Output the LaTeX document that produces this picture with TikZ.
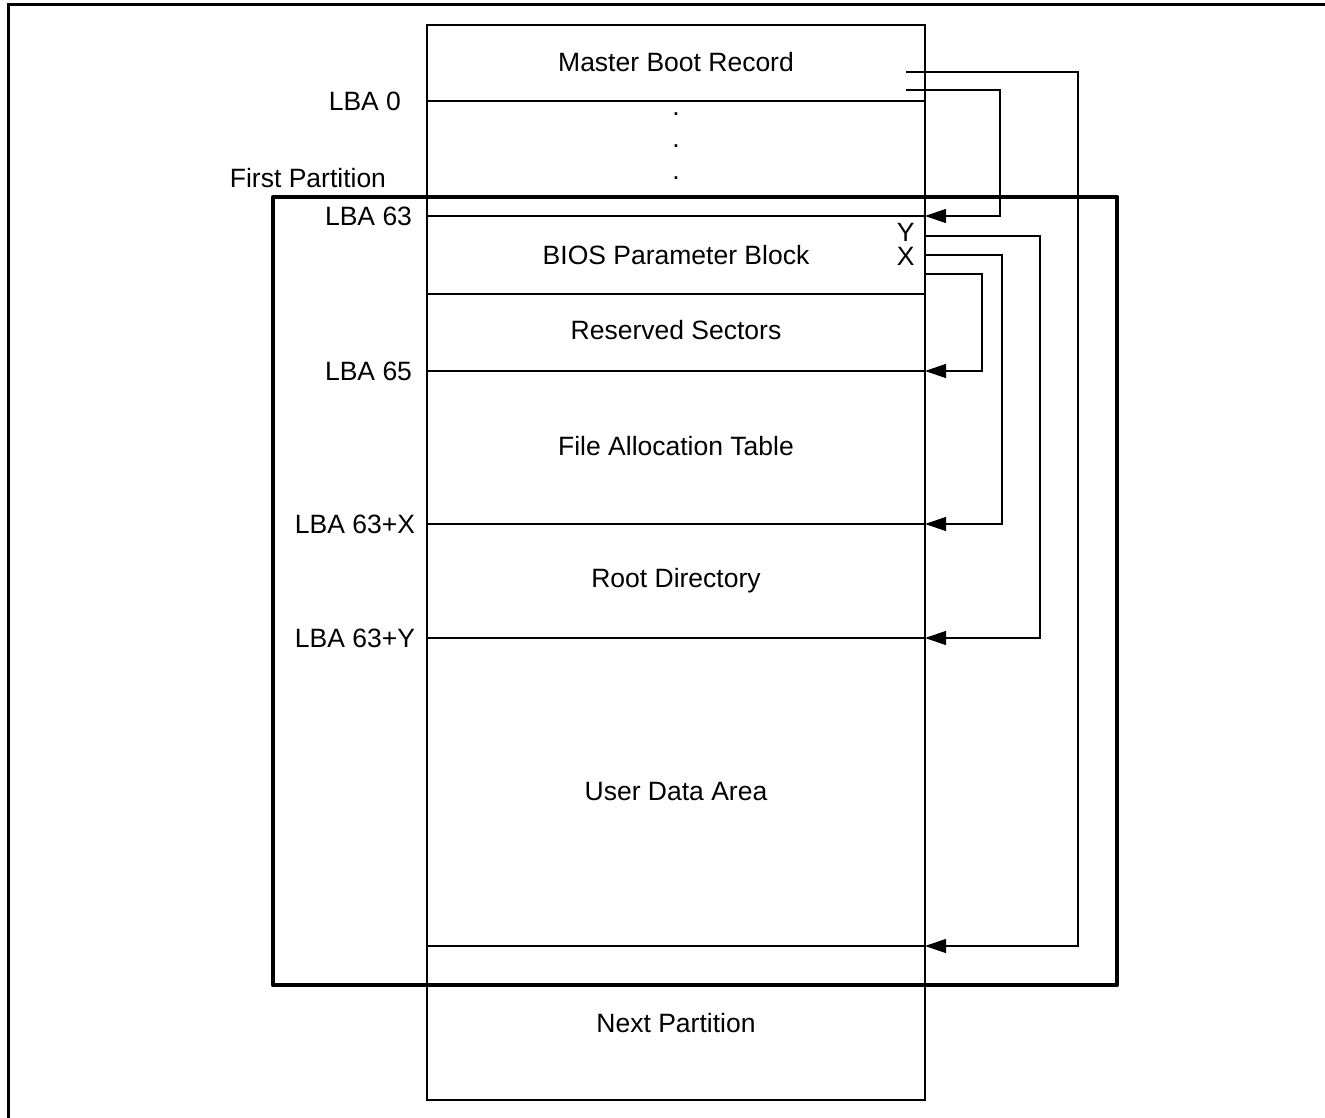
\documentclass[tikz,border=0pt]{standalone}
\usepackage{fontspec}
\setmainfont{Liberation Sans}
\usetikzlibrary{arrows.meta,positioning}

\begin{document}
\begin{tikzpicture}[x=0.4pt,y=-0.4pt,
      font=\fontsize{10.6}{12.7}\selectfont,
      sect/.style={inner sep=1pt},
      lba/.style={anchor=east,inner sep=1pt},
      tag/.style={anchor=east,inner sep=0pt},
      sep/.style={line width=0.5pt},
      frame/.style={line width=1.2pt},
      part/.style={line width=1.8pt,line join=round},
      link/.style={line width=0.5pt,-{Triangle[length=8.4pt,width=5.6pt]}}]
    \useasboundingbox (0,0) rectangle (1325,1118);
    % outer frame, cut by the page
    \draw[frame] (8,1140) -- (8,5) -- (1340,5);
    % disk column
    \draw[sep] (427,25) rectangle (925,1100);
    \foreach \n/\y in {0/101,63/216,bpb/294,65/371,x/524,y/638,end/946}{
      \coordinate (L\n) at (427,\y);
      \coordinate (R\n) at (925,\y);
      \draw[sep] (L\n) -- (R\n);
    }
    \node[sect] (mbr) at (676,62) {Master Boot Record};
    \node[sect] (d1) at (676,114) {.};
    \node[sect] (d2) at (676,146) {.};
    \node[sect] (d3) at (676,178) {.};
    \node[sect] (bpb) at (676,255) {BIOS Parameter Block};
    \node[sect] (res) at (676,330) {Reserved Sectors};
    \node[sect] (fat) at (676,446) {File Allocation Table};
    \node[sect] (root) at (676,581) {Root Directory};
    \node[sect] (data) at (676,792) {User Data Area};
    \node[sect] (next) at (676,1023) {Next Partition};
    % sector numbers
    \node[lba] (n0) at (404,101) {LBA 0};
    \node[lba] (n63) at (415,216) {LBA 63};
    \node[lba] (n65) at (415,371) {LBA 65};
    \node[lba] (nx) at (418,524) {LBA 63+X};
    \node[lba] (ny) at (418,638) {LBA 63+Y};
    \node[lba] (first) at (389,178) {First Partition};
    % first partition
    \draw[part] (273,197) rectangle (1117,985);
    % pointers
    \coordinate (mA) at (906,72);
    \coordinate (mB) at (906,90);
    \coordinate (bY) at (925,236);
    \coordinate (bX) at (925,255);
    \coordinate (bR) at (925,274);
    \node[tag] (ylab) at (915,232) {Y};
    \node[tag] (xlab) at (915,256) {X};
    \draw[link] (mA) -- ++(172,0) |- (Rend);
    \draw[link] (mB) -- ++(94,0) |- (R63);
    \draw[link] (bY) -- ++(115,0) |- (Ry);
    \draw[link] (bX) -- ++(77,0) |- (Rx);
    \draw[link] (bR) -- ++(57,0) |- (R65);
  \end{tikzpicture}
\end{document}
